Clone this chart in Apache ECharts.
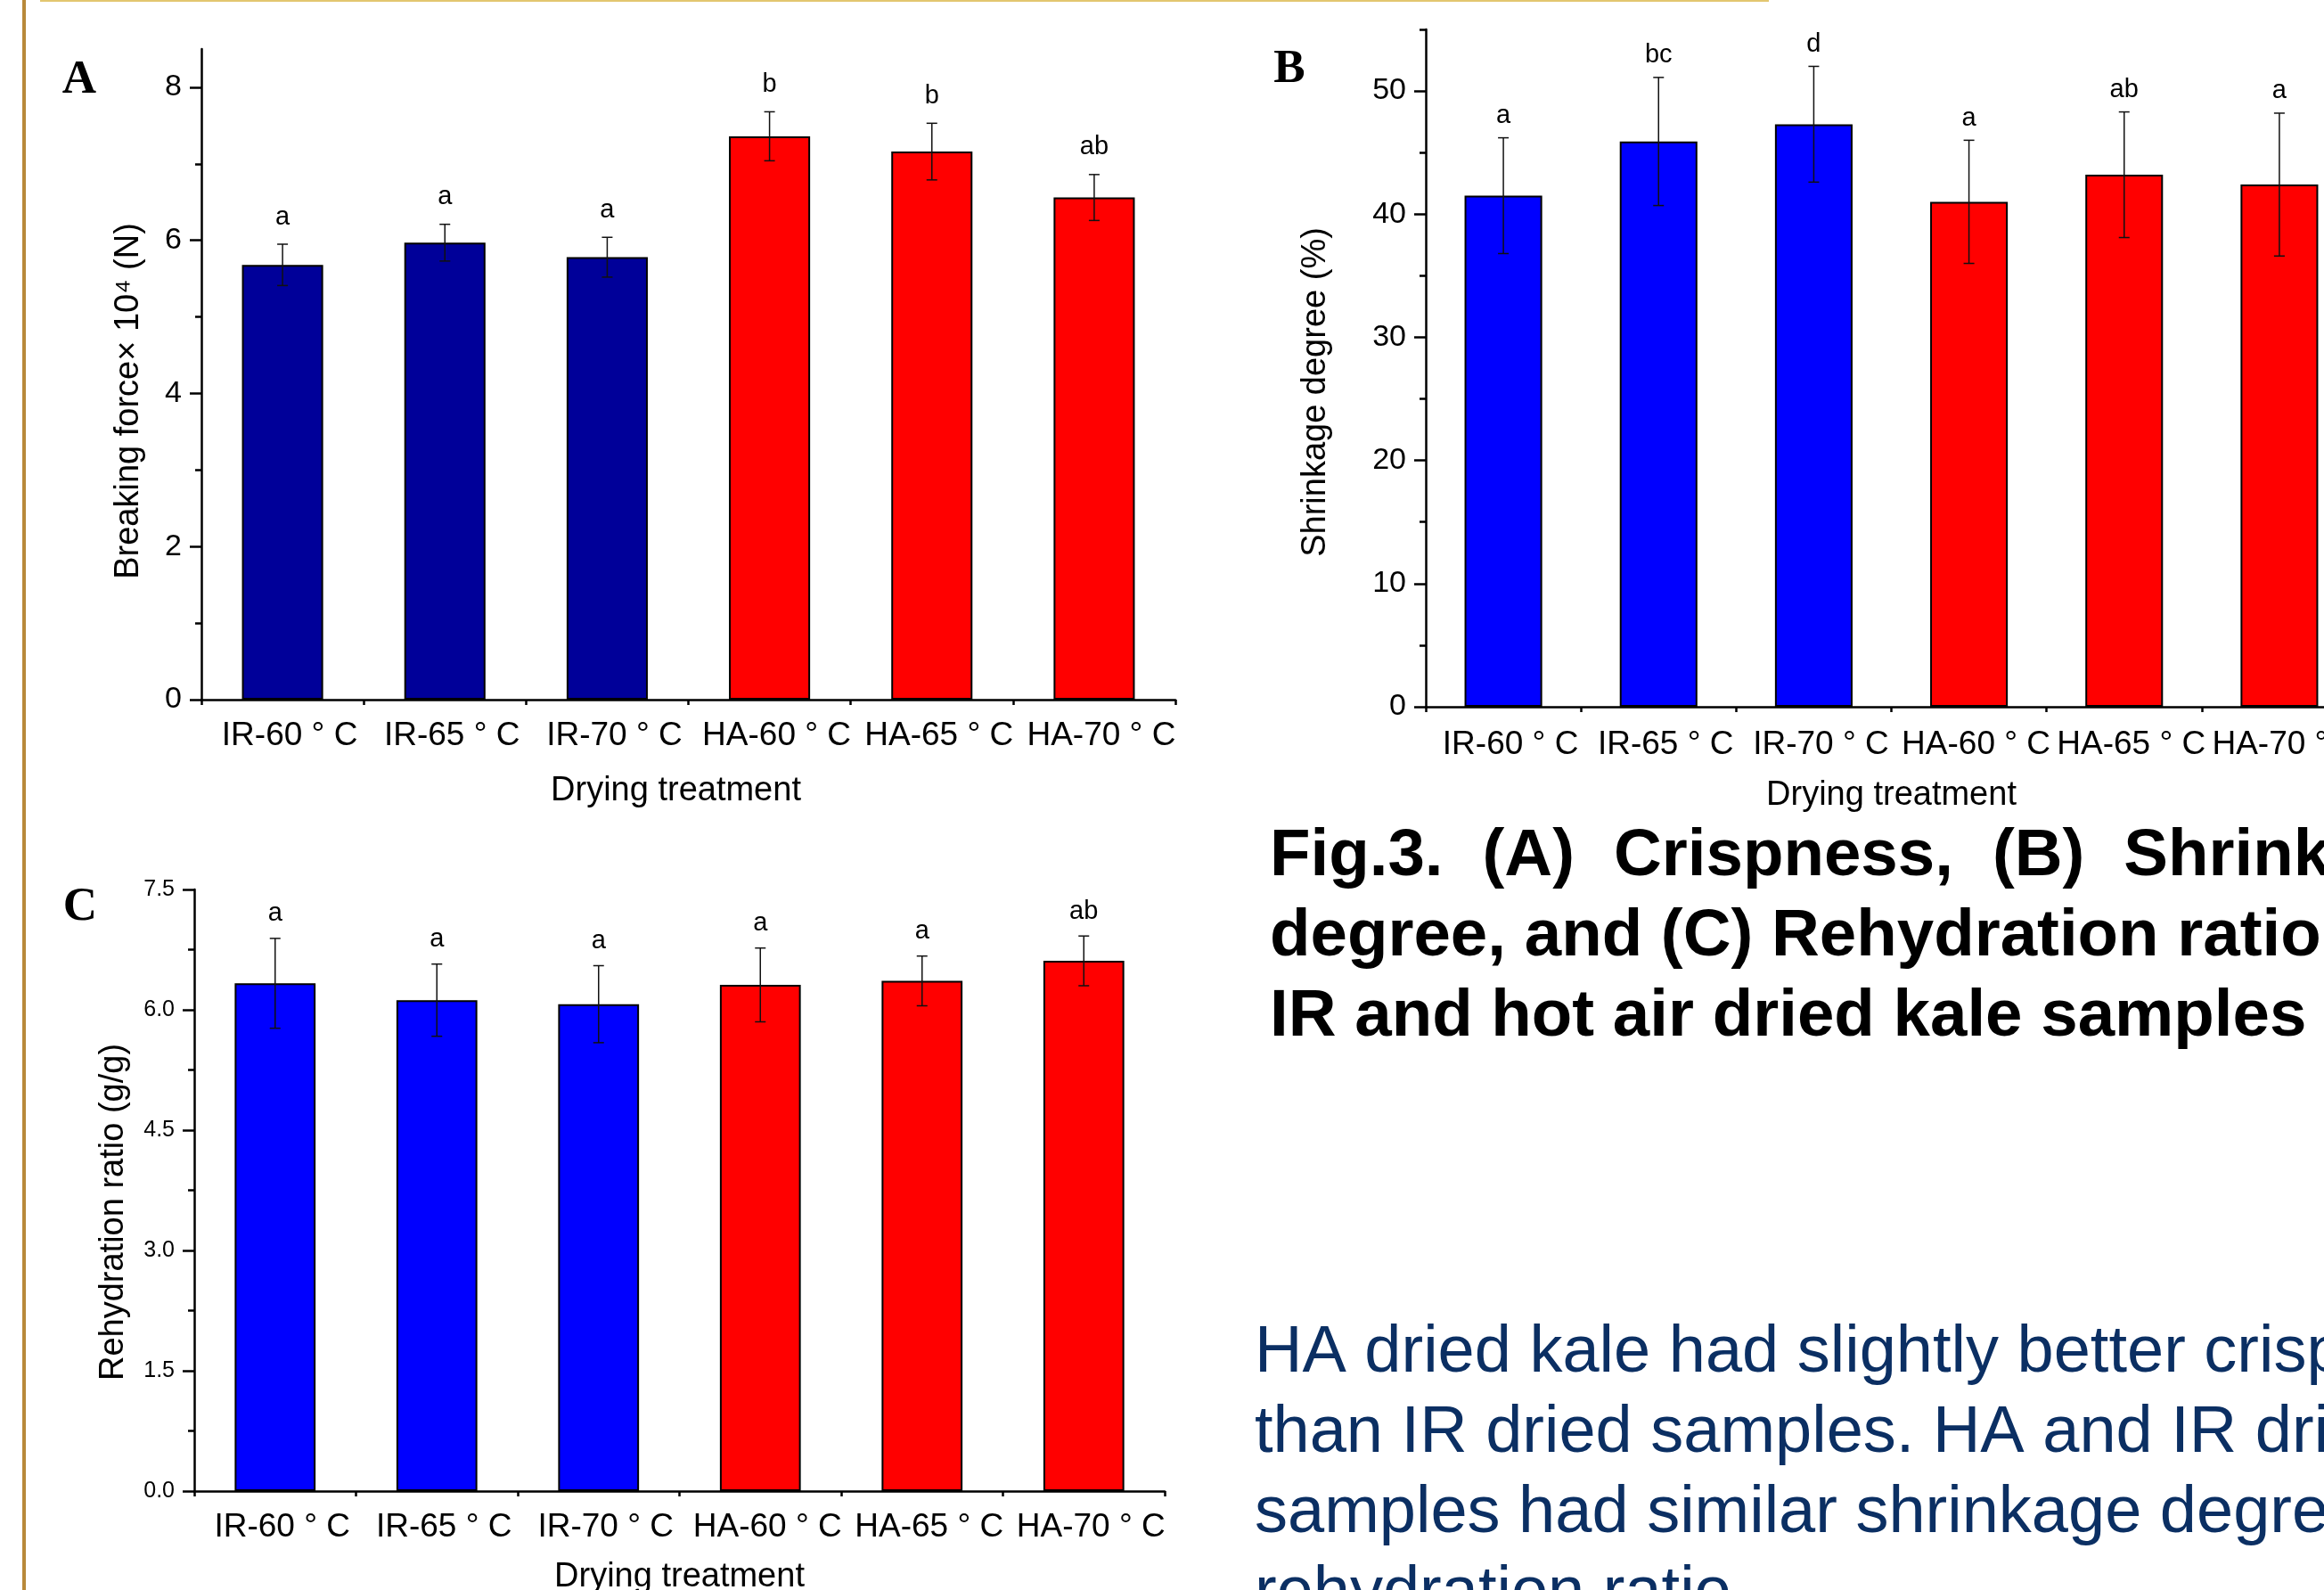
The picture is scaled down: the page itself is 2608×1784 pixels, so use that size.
<!DOCTYPE html>
<html>
<head>
<meta charset="utf-8">
<title>Fig.3 Crispness, shrinkage and rehydration of dried kale</title>
<script src="https://cdn.jsdelivr.net/npm/echarts@6/dist/echarts.min.js"></script>
<style>
html, body { margin: 0; padding: 0; background: #fff; overflow: hidden; }
#chart { width: 2660px; height: 1784px; }
</style>
</head>
<body>
<div id="chart"></div>
<script>
// data
const categories = ['IR-60 ° C', 'IR-65 ° C', 'IR-70 ° C', 'HA-60 ° C', 'HA-65 ° C', 'HA-70 ° C'];

const crispness = [5.68, 5.97, 5.78, 7.36, 7.16, 6.56];
const crispnessSD = [0.27, 0.24, 0.26, 0.32, 0.37, 0.30];
const crispnessLetters = ['a', 'a', 'a', 'b', 'b', 'ab'];

const shrinkage = [41.5, 45.9, 47.3, 41.0, 43.2, 42.4];
const shrinkageSD = [4.7, 5.2, 4.7, 5.0, 5.1, 5.8];
const shrinkageLetters = ['a', 'bc', 'd', 'a', 'ab', 'a'];

const rehydration = [6.33, 6.12, 6.07, 6.31, 6.36, 6.61];
const rehydrationSD = [0.56, 0.45, 0.48, 0.46, 0.31, 0.31];
const rehydrationLetters = ['a', 'a', 'a', 'a', 'a', 'ab'];

const crispTicks = [0, 2, 4, 6, 8];
const crispMinor = [1, 3, 5, 7];
const shrinkTicks = [0, 10, 20, 30, 40, 50];
const shrinkMinor = [5, 15, 25, 35, 45, 55];
const rehydTicks = [0, 1.5, 3, 4.5, 6, 7.5];
const rehydMinor = [0.75, 2.25, 3.75, 5.25, 6.75];

const captionFirst = ['Fig.3.', '(A)', 'Crispness,', '(B)', 'Shrinkage'];
const captionRest = ['degree, and (C) Rehydration ratio of', 'IR and hot air dried kale samples'];
const noteLines = [
  'HA dried kale had slightly better crispness',
  'than IR dried samples. HA and IR dried',
  'samples had similar shrinkage degree and',
  'rehydration ratio.'
];

const FONT = '"Liberation Sans", Arial, sans-serif';
const SERIF = '"Liberation Serif", "Times New Roman", serif';
const HA_RED = '#FF0000';
const axisLineStyle = { color: '#000', width: 2.5 };

const chart = echarts.init(document.getElementById('chart'));

function xAxes(gridIndex, labelMargin, nameGap, namePadding) {
  return [
    {
      type: 'category', gridIndex, data: categories, position: 'bottom',
      axisLine: { lineStyle: axisLineStyle },
      axisTick: { alignWithLabel: true, length: 12, lineStyle: axisLineStyle },
      axisLabel: {
        interval: 0, margin: labelMargin, padding: [0, 0, 0, 16],
        color: '#000', fontSize: 37, fontFamily: FONT
      },
      name: 'Drying treatment', nameLocation: 'middle', nameGap,
      nameTextStyle: { color: '#000', fontSize: 38, fontFamily: FONT, padding: namePadding }
    },
    {
      // short ticks between the groups
      type: 'category', gridIndex, data: categories, position: 'bottom',
      axisLine: { show: false },
      axisLabel: { show: false },
      axisTick: { show: true, length: 6, lineStyle: axisLineStyle }
    }
  ];
}

function yAxes(gridIndex, max, major, minor, fontSize, formatter) {
  return [
    {
      type: 'value', gridIndex, min: 0, max, position: 'left',
      axisLine: { show: true, lineStyle: axisLineStyle },
      axisTick: { show: true, length: 13, customValues: major, lineStyle: axisLineStyle },
      axisLabel: { customValues: major, margin: 22, fontSize, color: '#000', fontFamily: FONT, formatter },
      splitLine: { show: false }
    },
    {
      type: 'value', gridIndex, min: 0, max, position: 'left',
      axisLine: { show: false },
      axisLabel: { show: false },
      axisTick: { show: true, length: 7, customValues: minor, lineStyle: axisLineStyle },
      splitLine: { show: false }
    }
  ];
}

function barSeries(axisIndex, values, irColor) {
  return {
    type: 'bar',
    xAxisIndex: axisIndex, yAxisIndex: axisIndex,
    data: values,
    barWidth: '50%',
    itemStyle: {
      color: (p) => categories[p.dataIndex].startsWith('IR') ? irColor : HA_RED,
      borderColor: '#000',
      borderWidth: 2
    },
    z: 2
  };
}

function errorSeries(axisIndex, values, sds, letters, letterGap) {
  return {
    type: 'custom',
    xAxisIndex: axisIndex, yAxisIndex: axisIndex,
    data: values.map((v, i) => [i, v, sds[i]]),
    z: 5,
    renderItem: (params, api) => {
      const i = api.value(0);
      const v = api.value(1);
      const sd = api.value(2);
      const hi = api.coord([i, v + sd]);
      const lo = api.coord([i, v - sd]);
      const cap = 6;
      const line = { stroke: '#111', lineWidth: 1.5 };
      return {
        type: 'group',
        children: [
          { type: 'line', shape: { x1: hi[0], y1: hi[1], x2: lo[0], y2: lo[1] }, style: line },
          { type: 'line', shape: { x1: hi[0] - cap, y1: hi[1], x2: hi[0] + cap, y2: hi[1] }, style: line },
          { type: 'line', shape: { x1: lo[0] - cap, y1: lo[1], x2: lo[0] + cap, y2: lo[1] }, style: line },
          {
            type: 'text',
            style: {
              text: letters[params.dataIndex], x: hi[0], y: hi[1] - letterGap,
              align: 'center', verticalAlign: 'bottom',
              font: '29px ' + FONT, fill: '#000'
            }
          }
        ]
      };
    }
  };
}

// first caption line is justified: spread its words with a wider gap
const captionFont = 'bold 74.5px ' + FONT;
const measure = document.createElement('canvas').getContext('2d');
measure.font = captionFont;
const captionGraphics = [];
let cx = 1425;
captionFirst.forEach((w) => {
  captionGraphics.push({
    type: 'text', x: cx, y: 961,
    style: { text: w, font: captionFont, fill: '#000', align: 'left', verticalAlign: 'middle' }
  });
  cx += measure.measureText(w).width + 44;
});
captionRest.forEach((t, k) => {
  captionGraphics.push({
    type: 'text', x: 1425, y: 1051 + k * 90,
    style: { text: t, font: captionFont, fill: '#000', align: 'left', verticalAlign: 'middle' }
  });
});

const noteGraphics = noteLines.map((t, k) => ({
  type: 'text', x: 1408, y: 1519 + k * 90,
  style: { text: t, font: '74px ' + FONT, fill: '#0B2F63', align: 'left', verticalAlign: 'middle' }
}));

function yTitle(text, x, y) {
  return {
    type: 'text', x, y, rotation: Math.PI / 2,
    style: { text, font: '38px ' + FONT, fill: '#000', align: 'center', verticalAlign: 'middle' }
  };
}

function panelLetter(text, x, y) {
  return {
    type: 'text', x, y,
    style: { text, font: 'bold 53px ' + SERIF, fill: '#000', align: 'center', verticalAlign: 'middle' }
  };
}

const option = {
  animation: false,
  backgroundColor: '#fff',
  grid: [
    { left: 226, top: 55, width: 1093, height: 730, outerBoundsMode: 'none' },
    { left: 1600, top: 33, width: 1045, height: 760, outerBoundsMode: 'none' },
    { left: 218, top: 998, width: 1089, height: 675, outerBoundsMode: 'none' }
  ],
  xAxis: [
    ...xAxes(0, 22, 84, [0, 28, 0, 0]),
    ...xAxes(1, 24, 81, 0),
    ...xAxes(2, 22, 78, 0)
  ],
  yAxis: [
    ...yAxes(0, 8.5, crispTicks, crispMinor, 34, (v) => String(v)),
    ...yAxes(1, 55, shrinkTicks, shrinkMinor, 34, (v) => String(v)),
    ...yAxes(2, 7.5, rehydTicks, rehydMinor, 25, (v) => v.toFixed(1))
  ],
  series: [
    barSeries(0, crispness, '#000099'),
    errorSeries(0, crispness, crispnessSD, crispnessLetters, 16),
    barSeries(2, shrinkage, '#0000FF'),
    errorSeries(2, shrinkage, shrinkageSD, shrinkageLetters, 10),
    barSeries(4, rehydration, '#0000FF'),
    errorSeries(4, rehydration, rehydrationSD, rehydrationLetters, 13)
  ],
  graphic: [
    { type: 'rect', shape: { x: 25, y: 0, width: 4, height: 1784 }, style: { fill: '#B8893A' } },
    { type: 'rect', shape: { x: 45, y: 0, width: 1940, height: 2 }, style: { fill: '#E3C670' } },
    panelLetter('A', 89, 90),
    panelLetter('B', 1447, 78),
    panelLetter('C', 90, 1018),
    yTitle('Breaking force× 10⁴ (N)', 145, 450),
    yTitle('Shrinkage degree (%)', 1477, 440),
    yTitle('Rehydration ratio (g/g)', 128, 1360),
    ...captionGraphics,
    ...noteGraphics
  ]
};

chart.setOption(option);
</script>
</body>
</html>
